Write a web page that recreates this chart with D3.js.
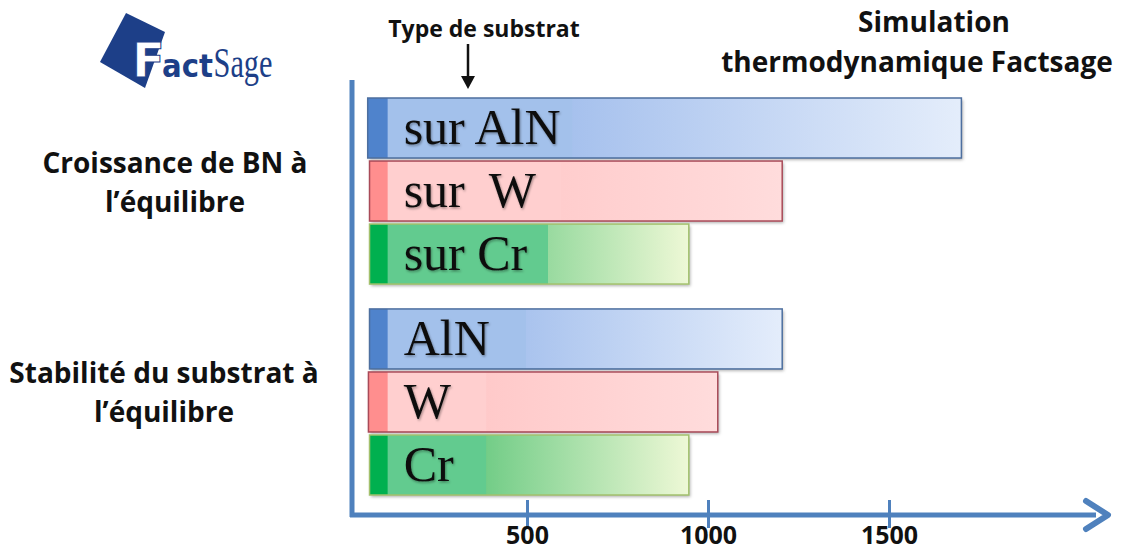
<!DOCTYPE html>
<html>
<head>
<meta charset="utf-8">
<script src="https://cdn.jsdelivr.net/npm/d3@7"></script>
<style>
  body { margin: 0; background: #fff; }
  .side { font-family: "Open Sans", sans-serif; font-weight: 700; font-size: 28px; fill: #111; }
  .tick-label { font-family: "Open Sans", sans-serif; font-weight: 700; font-size: 25px; fill: #111; }
  .bar-label { font-family: "Liberation Serif", serif; font-size: 50px; fill: #111; }
</style>
</head>
<body>
<div id="chart"></div>
<script>
// groups of bars
const groups = ["croissance", "stabilite"];
const groupTitles = [["Croissance de BN à", "l’équilibre"], ["Stabilité du substrat à", "l’équilibre"]];

// bars, in drawing order
const barGroup = ["croissance", "croissance", "croissance", "stabilite", "stabilite", "stabilite"];
const barLabels = ["sur AlN", "sur  W", "sur Cr", "AlN", "W", "Cr"];
const barMaterial = ["AlN", "W", "Cr", "AlN", "W", "Cr"];
const barStart = [60, 65, 65, 65, 62, 65];
const stripEnd = [115, 115, 115, 115, 115, 115];
const labelEnd = [625, 594, 558, 497, 387, 387];
const barEnd = [1700, 1205, 947, 1205, 1027, 947];

const tickValues = [500, 1000, 1500];

const palette = {
  AlN: {strip: "#4f83cc", label: "#a3c1eb", from: "#86aae6", to: "#e4edfb", stroke: "#4d6f9f"},
  W:   {strip: "#ff8e8e", label: "#ffcfcf", from: "#ffc0c0", to: "#ffdcdc", stroke: "#a84a58"},
  Cr:  {strip: "#00b04f", label: "#62cb8f", from: "#2cb45a", to: "#eef8d6", stroke: "#a2c06c"}
};

const width = 1121, height = 551;
const axisColor = "#4f81bd";

const svg = d3.select("#chart").append("svg")
    .attr("width", width)
    .attr("height", height);

const defs = svg.append("defs");
const shadow = defs.append("filter").attr("id", "shadow")
    .attr("x", "-5%").attr("y", "-10%").attr("width", "115%").attr("height", "130%");
shadow.append("feDropShadow").attr("dx", 1.5).attr("dy", 2).attr("stdDeviation", 1.5)
    .attr("flood-color", "#000").attr("flood-opacity", 0.3);
const textShadow = defs.append("filter").attr("id", "tshadow");
textShadow.append("feDropShadow").attr("dx", 1).attr("dy", 1.5).attr("stdDeviation", 1)
    .attr("flood-color", "#000").attr("flood-opacity", 0.35);

Object.keys(palette).forEach(k => {
  const g = defs.append("linearGradient").attr("id", "grad-" + k)
      .attr("x1", "0%").attr("x2", "100%");
  g.append("stop").attr("offset", "0%").attr("stop-color", palette[k].from);
  g.append("stop").attr("offset", "100%").attr("stop-color", palette[k].to);
});

// scales
const x = d3.scaleLinear().domain([0, 2000]).range([346, 1070]);
const yGroup = d3.scaleBand().domain(groups).range([98, 495]).paddingInner(0.118);
const yInner = d3.scaleBand().domain([0, 1, 2]).range([0, yGroup.bandwidth()]).paddingInner(0.048);

const bars = barLabels.map((label, i) => ({
  label, mat: barMaterial[i], group: barGroup[i],
  slot: barGroup.slice(0, i).filter(g => g === barGroup[i]).length,
  start: barStart[i], strip: stripEnd[i], lab: labelEnd[i], end: barEnd[i]
}));
const yPos = d => yGroup(d.group) + yInner(d.slot);
const bh = yInner.bandwidth();

const barG = svg.append("g").selectAll("g").data(bars).join("g");

barG.append("rect")
    .attr("x", d => x(d.start)).attr("y", yPos)
    .attr("width", d => x(d.end) - x(d.start)).attr("height", bh)
    .attr("fill", d => `url(#grad-${d.mat})`)
    .attr("filter", "url(#shadow)");
barG.append("rect")
    .attr("x", d => x(d.start)).attr("y", yPos)
    .attr("width", d => x(d.lab) - x(d.start)).attr("height", bh)
    .attr("fill", d => palette[d.mat].label);
barG.append("rect")
    .attr("x", d => x(d.start)).attr("y", yPos)
    .attr("width", d => x(d.strip) - x(d.start)).attr("height", bh)
    .attr("fill", d => palette[d.mat].strip);
barG.append("rect")
    .attr("x", d => x(d.start)).attr("y", yPos)
    .attr("width", d => x(d.end) - x(d.start)).attr("height", bh)
    .attr("fill", "none")
    .attr("stroke", d => palette[d.mat].stroke).attr("stroke-width", 1.5);
barG.append("text")
    .attr("class", "bar-label")
    .attr("x", d => x(d.strip) + 16)
    .attr("y", d => yPos(d) + bh / 2 + 16)
    .attr("filter", "url(#tshadow)")
    .attr("xml:space", "preserve")
    .style("white-space", "pre")
    .text(d => d.label);

// axes
const axisY = 515;
svg.append("line")
    .attr("x1", 352).attr("x2", 352).attr("y1", 80).attr("y2", axisY + 2)
    .attr("stroke", axisColor).attr("stroke-width", 5);
svg.append("line")
    .attr("x1", 350).attr("x2", 1096).attr("y1", axisY).attr("y2", axisY)
    .attr("stroke", axisColor).attr("stroke-width", 5);
svg.append("path")
    .attr("d", `M1086,${axisY - 14} L1108,${axisY} L1086,${axisY + 14}`)
    .attr("fill", "none").attr("stroke", axisColor).attr("stroke-width", 6)
    .attr("stroke-linecap", "round").attr("stroke-linejoin", "round");

const xAxis = d3.axisBottom(x).tickValues(tickValues).tickFormat(d3.format("d"))
    .tickSize(0).tickPadding(0);
const axG = svg.append("g").attr("transform", `translate(0,${axisY})`).call(xAxis);
axG.attr("font-size", null).attr("font-family", null);
axG.select(".domain").remove();
axG.selectAll(".tick line").attr("y1", -15).attr("y2", 13)
    .attr("stroke", axisColor).attr("stroke-width", 3);
axG.selectAll(".tick text").attr("class", "tick-label").attr("y", 29)
    .attr("dy", null).attr("fill", null);

// side titles
const titleX = [175, 164];
const titleY = [173, 383];
groupTitles.forEach((lines, i) => {
  const t = svg.append("text").attr("class", "side").attr("text-anchor", "middle");
  lines.forEach((l, j) => t.append("tspan").attr("x", titleX[i])
      .attr("y", titleY[i] + j * 39).text(l));
});

// top annotations
svg.append("text").attr("class", "side").style("font-size", "23px")
    .attr("x", 484).attr("y", 37).attr("text-anchor", "middle").text("Type de substrat");
svg.append("line").attr("x1", 468).attr("x2", 468).attr("y1", 44).attr("y2", 82)
    .attr("stroke", "#111").attr("stroke-width", 2.5);
svg.append("path").attr("d", "M461,76 L468,89 L475,76 Z").attr("fill", "#111");

const title = svg.append("text").attr("class", "side").attr("text-anchor", "middle");
title.append("tspan").attr("x", 934).attr("y", 32).text("Simulation");
title.append("tspan").attr("x", 917).attr("y", 72).text("thermodynamique Factsage");

// FactSage logo
const logo = svg.append("g");
logo.append("path").attr("d", "M126,13 L165,32 L145,88 L100,62 Z").attr("fill", "#1d3f88");
logo.append("text").attr("x", 132).attr("y", 77)
    .style("font-family", "'DejaVu Sans', sans-serif").style("font-weight", 700)
    .style("font-size", "48px").attr("fill", "#fff").attr("stroke", "#1d3f88").attr("stroke-width", 1)
    .text("F");
logo.append("text").attr("x", 162).attr("y", 77)
    .style("font-family", "'DejaVu Sans', sans-serif").style("font-weight", 700)
    .style("font-size", "32px").attr("fill", "#1d3f88").attr("textLength", 51)
    .attr("lengthAdjust", "spacingAndGlyphs")
    .text("act");
logo.append("text").attr("x", 213.5).attr("y", 77)
    .style("font-family", "'Liberation Serif', serif")
    .style("font-size", "42px").attr("fill", "#1d3f88").attr("textLength", 59)
    .attr("lengthAdjust", "spacingAndGlyphs")
    .text("Sage");
</script>
</body>
</html>
